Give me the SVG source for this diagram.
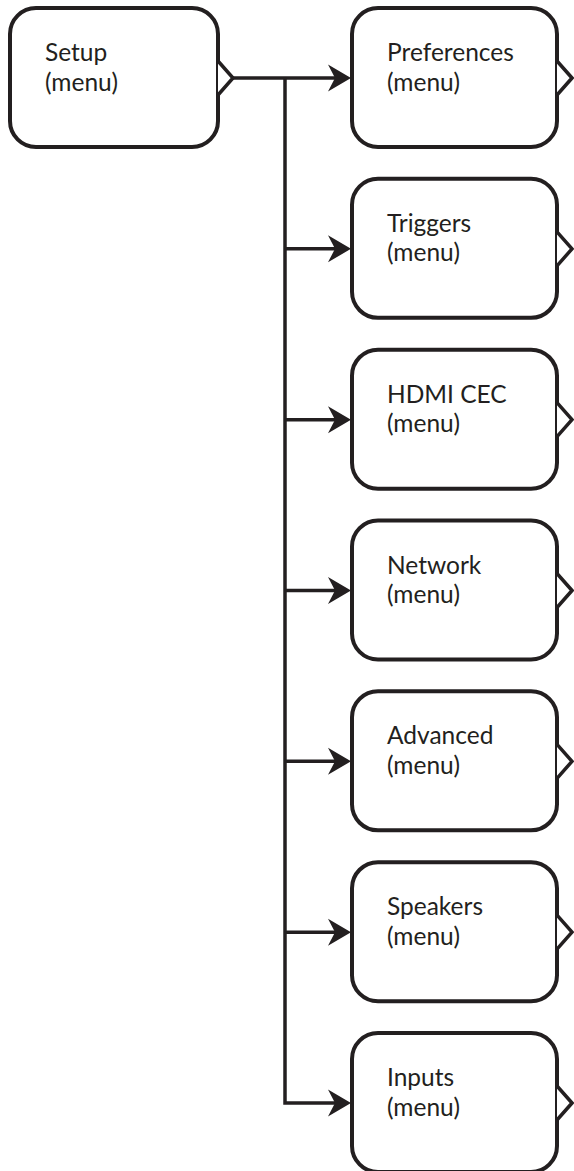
<svg xmlns="http://www.w3.org/2000/svg" width="574" height="1171" viewBox="0 0 574 1171">
<style>
.box{fill:#fff;stroke:#231f20;stroke-width:4}
.tri{fill:#fff;stroke:#231f20;stroke-width:3.5;stroke-linejoin:miter}
.ln{fill:none;stroke:#231f20;stroke-width:3.5}
.ah{fill:#231f20}
text{font-family:Lato,"Open Sans","Liberation Sans",sans-serif;font-size:24.5px;fill:#231f20}
</style>
<rect width="574" height="1171" fill="#fff"/>
<g id="connectors">
<path class="ln" d="M233,78 H336 M285,78 V1103 H336 M285,248.8 H336 M285,419.7 H336 M285,590.5 H336 M285,761.3 H336 M285,932.2 H336"/>
<path class="ah" d="M351,78 L328,64.5 L335,78 L328,91.5 Z"/>
<path class="ah" d="M351,248.8 L328,235.3 L335,248.8 L328,262.3 Z"/>
<path class="ah" d="M351,419.7 L328,406.2 L335,419.7 L328,433.2 Z"/>
<path class="ah" d="M351,590.5 L328,577 L335,590.5 L328,604 Z"/>
<path class="ah" d="M351,761.3 L328,747.8 L335,761.3 L328,774.8 Z"/>
<path class="ah" d="M351,932.2 L328,918.7 L335,932.2 L328,945.7 Z"/>
<path class="ah" d="M351,1103 L328,1089.5 L335,1103 L328,1116.5 Z"/>
</g>
<g id="setup">
<rect class="box" x="10" y="8" width="208" height="139" rx="26"/>
<path class="tri" d="M218,61 L233,78 L218,95"/>
<text x="45" y="61">Setup</text>
<text x="45" y="90.5">(menu)</text>
</g>
<g id="preferences">
<rect class="box" x="352" y="8" width="205" height="139" rx="26"/>
<path class="tri" d="M557,61 L572,78 L557,95"/>
<text x="387" y="61">Preferences</text>
<text x="387" y="90.5">(menu)</text>
</g>
<g id="triggers" transform="translate(0,170.83)">
<rect class="box" x="352" y="8" width="205" height="139" rx="26"/>
<path class="tri" d="M557,61 L572,78 L557,95"/>
<text x="387" y="61">Triggers</text>
<text x="387" y="90.5">(menu)</text>
</g>
<g id="hdmi-cec" transform="translate(0,341.67)">
<rect class="box" x="352" y="8" width="205" height="139" rx="26"/>
<path class="tri" d="M557,61 L572,78 L557,95"/>
<text x="387" y="61">HDMI CEC</text>
<text x="387" y="90.5">(menu)</text>
</g>
<g id="network" transform="translate(0,512.5)">
<rect class="box" x="352" y="8" width="205" height="139" rx="26"/>
<path class="tri" d="M557,61 L572,78 L557,95"/>
<text x="387" y="61">Network</text>
<text x="387" y="90.5">(menu)</text>
</g>
<g id="advanced" transform="translate(0,683.33)">
<rect class="box" x="352" y="8" width="205" height="139" rx="26"/>
<path class="tri" d="M557,61 L572,78 L557,95"/>
<text x="387" y="61">Advanced</text>
<text x="387" y="90.5">(menu)</text>
</g>
<g id="speakers" transform="translate(0,854.17)">
<rect class="box" x="352" y="8" width="205" height="139" rx="26"/>
<path class="tri" d="M557,61 L572,78 L557,95"/>
<text x="387" y="61">Speakers</text>
<text x="387" y="90.5">(menu)</text>
</g>
<g id="inputs" transform="translate(0,1025)">
<rect class="box" x="352" y="8" width="205" height="139" rx="26"/>
<path class="tri" d="M557,61 L572,78 L557,95"/>
<text x="387" y="61">Inputs</text>
<text x="387" y="90.5">(menu)</text>
</g>
</svg>
